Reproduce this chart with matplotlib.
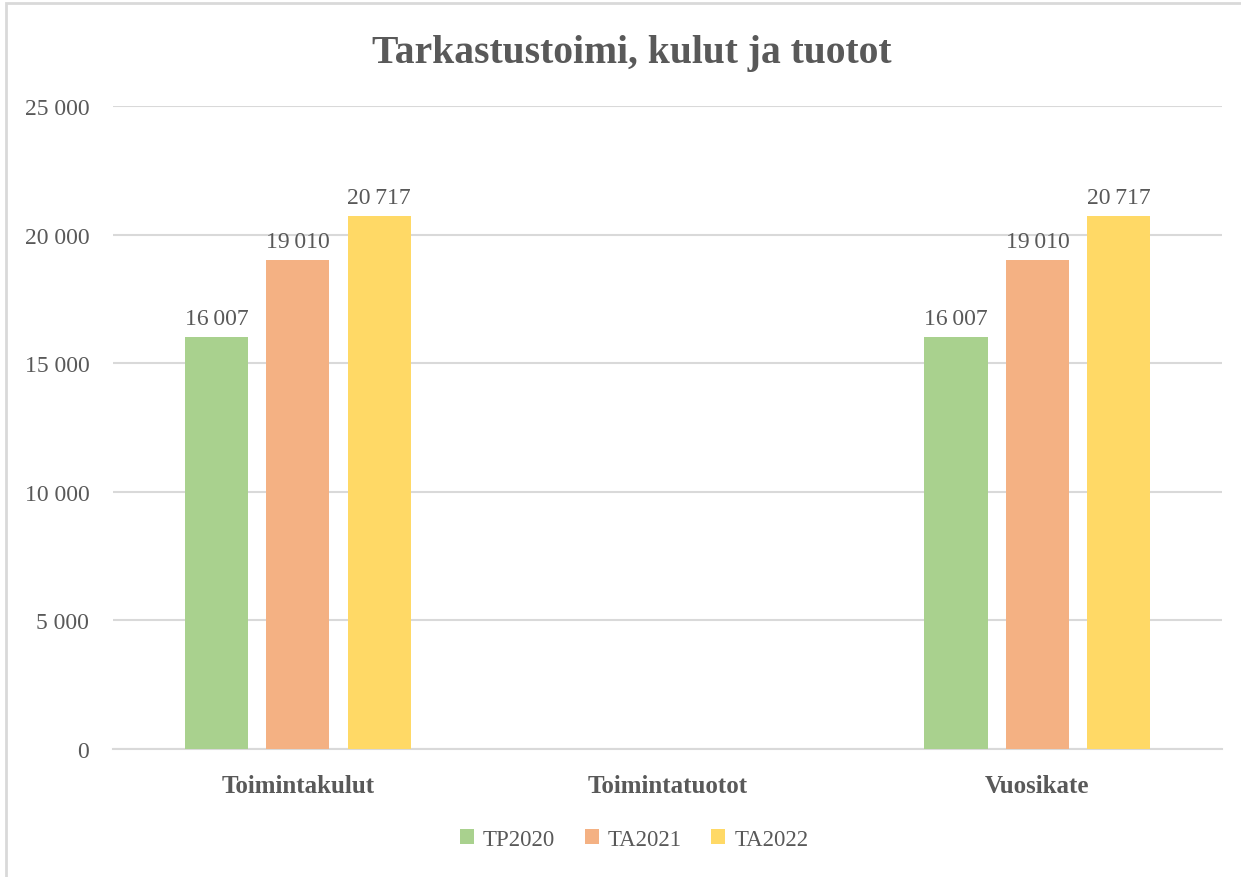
#!/usr/bin/env python3
"""Tarkastustoimi, kulut ja tuotot - grouped bar chart."""
import numpy as np
import matplotlib
matplotlib.use("Agg")
import matplotlib.pyplot as plt
from matplotlib.patches import Rectangle

plt.rcParams["font.family"] = ["Liberation Serif", "DejaVu Serif"]

categories = ["Toimintakulut", "Toimintatuotot", "Vuosikate"]
series_names = ["TP2020", "TA2021", "TA2022"]
tp2020 = [16007, 0, 16007]
ta2021 = [19010, 0, 19010]
ta2022 = [20717, 0, 20717]
colors = ["#A9D18E", "#F4B183", "#FFD966"]
yticks = [0, 5000, 10000, 15000, 20000, 25000]

TEXT = "#595959"
GRID = "#D9D9D9"


def fmt(v):
    return f"{v:,}".replace(",", " ")


fig = plt.figure(figsize=(12.41, 8.78), dpi=100)
ax = fig.add_axes([0.091, 0.1458, 0.894, 0.7323])

# outer chart frame (left/top edges visible)
fig.patches.append(Rectangle((6 / 1241, -0.01), 1.2, 1 - 4 / 878 + 0.01,
                             transform=fig.transFigure, fill=False,
                             edgecolor=GRID, linewidth=2))

x = np.arange(len(categories))
width = 0.171
step = 0.22
for i, (name, vals) in enumerate(zip(series_names, [tp2020, ta2021, ta2022])):
    bars = ax.bar(x + (i - 1) * step, vals, width, color=colors[i],
                  label=name, zorder=3)
    for b, v in zip(bars, vals):
        if v:
            ax.annotate(fmt(v).replace(" ", "\u2009"),
                        (b.get_x() + b.get_width() / 2, v),
                        xytext=(0, 6), textcoords="offset points",
                        ha="center", va="bottom", fontsize=17, color=TEXT,
                        zorder=4)

ax.set_xlim(-0.5, 2.5)
ax.set_ylim(0, 25000)
ax.set_yticks(yticks)
ax.set_yticklabels([fmt(v) for v in yticks], fontsize=17, color=TEXT)
ax.set_xticks(x)
ax.set_xticklabels(categories, fontsize=18, fontweight="bold", color=TEXT)
ax.tick_params(axis="both", length=0)
ax.tick_params(axis="y", pad=17)
ax.tick_params(axis="x", pad=18)
ax.grid(axis="y", color=GRID, linewidth=1.5, zorder=0)
for s in ["top", "right", "left"]:
    ax.spines[s].set_visible(False)
ax.spines["bottom"].set_color(GRID)
ax.spines["bottom"].set_linewidth(1.5)

fig.text(0.509, 0.939, "Tarkastustoimi, kulut ja tuotot", ha="center",
         va="center", fontsize=28.5, fontweight="bold", color=TEXT)

leg = fig.legend(loc="center", bbox_to_anchor=(0.511, 0.043), ncol=3,
                 frameon=False, fontsize=16.5, handlelength=0.6,
                 handleheight=0.6, handletextpad=0.4, columnspacing=1.3)
for t in leg.get_texts():
    t.set_color(TEXT)

fig.savefig("out.png", dpi=100)
